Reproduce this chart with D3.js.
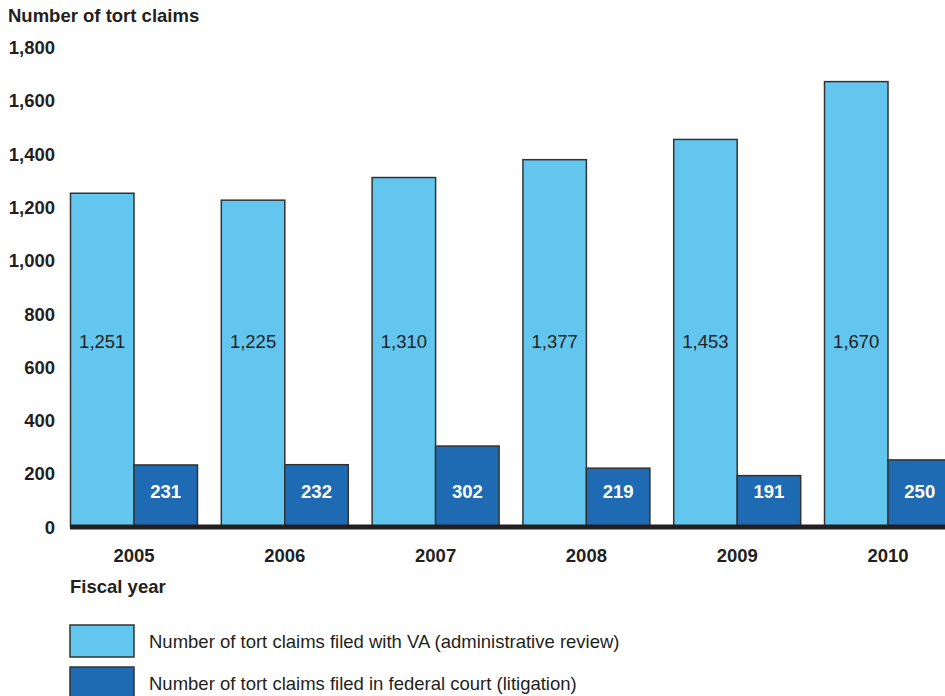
<!DOCTYPE html>
<html>
<head>
<meta charset="utf-8">
<script src="https://cdn.jsdelivr.net/npm/d3@7"></script>
<style>
  html, body { margin: 0; padding: 0; background: #fff; }
  svg { display: block; font-family: "Liberation Sans", Arial, sans-serif; }
</style>
</head>
<body>
<svg id="chart" width="945" height="696"></svg>
<script>
// Fiscal years and tort claim counts
const years = ["2005", "2006", "2007", "2008", "2009", "2010"];
const vaClaims = [1251, 1225, 1310, 1377, 1453, 1670];
const courtClaims = [231, 232, 302, 219, 191, 250];
const yTicks = [0, 200, 400, 600, 800, 1000, 1200, 1400, 1600, 1800];
const seriesNames = [
  "Number of tort claims filed with VA (administrative review)",
  "Number of tort claims filed in federal court (litigation)"
];
const colors = ["#63c6ee", "#1f6bb3"];

const svg = d3.select("#chart");
const textColor = "#231f20";
const fs = 18.5;
const fmt = d3.format(",");

const x = d3.scaleBand().domain(years).range([70.5, 951.5]).paddingInner(0.158).paddingOuter(0);
const sub = d3.scaleBand().domain([0, 1]).range([0, x.bandwidth()]);
const y = d3.scaleLinear().domain([0, 1800]).range([526.5, 47]);

// Axis title
svg.append("text")
  .attr("x", 8).attr("y", 22)
  .attr("font-size", fs).attr("font-weight", "bold").attr("fill", textColor)
  .text("Number of tort claims");

// Y axis labels (no line, no ticks)
const yAxis = d3.axisLeft(y).tickValues(yTicks).tickFormat(fmt).tickSize(0).tickPadding(0);
const yg = svg.append("g").attr("transform", "translate(55,0)").call(yAxis);
yg.select(".domain").remove();
yg.selectAll("text")
  .attr("font-size", fs).attr("font-weight", "bold").attr("fill", textColor)
  .attr("font-family", "Liberation Sans, Arial, sans-serif")
  .attr("dy", "0.36em");

// Bars
const groups = svg.append("g").selectAll("g")
  .data(years)
  .join("g")
  .attr("transform", d => `translate(${x(d)},0)`);

groups.append("rect")
  .attr("x", sub(0)).attr("width", sub.bandwidth())
  .attr("y", (d, i) => y(vaClaims[i]))
  .attr("height", (d, i) => y(0) - y(vaClaims[i]))
  .attr("fill", colors[0]).attr("stroke", "#333").attr("stroke-width", 1.5);

groups.append("rect")
  .attr("x", sub(1)).attr("width", sub.bandwidth())
  .attr("y", (d, i) => y(courtClaims[i]))
  .attr("height", (d, i) => y(0) - y(courtClaims[i]))
  .attr("fill", colors[1]).attr("stroke", "#333").attr("stroke-width", 1.5);

// Value labels
groups.append("text")
  .attr("x", sub(0) + sub.bandwidth() / 2).attr("y", 341)
  .attr("dy", "0.36em").attr("text-anchor", "middle")
  .attr("font-size", fs).attr("fill", textColor)
  .text((d, i) => fmt(vaClaims[i]));

groups.append("text")
  .attr("x", sub(1) + sub.bandwidth() / 2).attr("y", 491)
  .attr("dy", "0.36em").attr("text-anchor", "middle")
  .attr("font-size", fs).attr("font-weight", "bold").attr("fill", "#fff")
  .text((d, i) => fmt(courtClaims[i]));

// Baseline
svg.append("line")
  .attr("x1", 70).attr("x2", 945)
  .attr("y1", y(0) + 0.5).attr("y2", y(0) + 0.5)
  .attr("stroke", "#231f20").attr("stroke-width", 5);

// X axis labels
const xAxis = d3.axisBottom(x).tickSize(0).tickPadding(0);
const xg = svg.append("g").attr("transform", "translate(0,555)").call(xAxis);
xg.select(".domain").remove();
xg.selectAll("text")
  .attr("font-size", fs).attr("font-weight", "bold").attr("fill", textColor)
  .attr("font-family", "Liberation Sans, Arial, sans-serif")
  .attr("dy", "0.36em").attr("y", 0);

svg.append("text")
  .attr("x", 70).attr("y", 593)
  .attr("font-size", fs).attr("font-weight", "bold").attr("fill", textColor)
  .text("Fiscal year");

// Legend
const legend = svg.append("g").selectAll("g")
  .data(seriesNames)
  .join("g")
  .attr("transform", (d, i) => `translate(70,${625 + i * 42})`);

legend.append("rect")
  .attr("width", 64).attr("height", 32)
  .attr("fill", (d, i) => colors[i]).attr("stroke", "#333").attr("stroke-width", 1.5);

legend.append("text")
  .attr("x", 79).attr("y", 16).attr("dy", "0.36em")
  .attr("font-size", fs).attr("fill", textColor)
  .text(d => d);
</script>
</body>
</html>
